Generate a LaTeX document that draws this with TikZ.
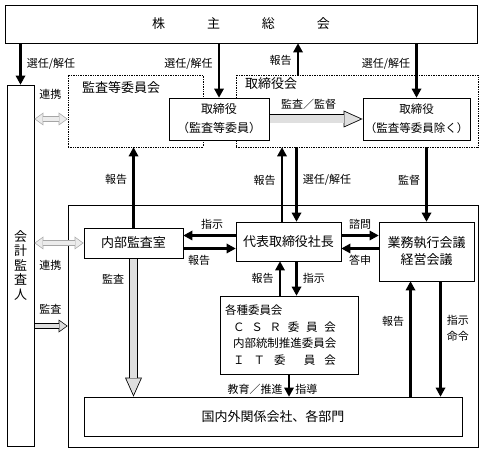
\documentclass[tikz,border=0pt]{standalone}
\usepackage{fontspec}
\usepackage{tikz}
\usetikzlibrary{shapes,arrows.meta,calc}
\setmainfont{Noto Sans CJK JP}
\tikzstyle{box} = [rectangle, draw, line width=0.8pt, fill=white, inner sep=0pt, font=\fontsize{13}{16}\selectfont]
\tikzstyle{area} = [rectangle, draw, densely dotted, line width=0.7pt, inner sep=0pt]
\tikzstyle{areaName} = [inner sep=0pt, anchor=west, font=\fontsize{13}{16}\selectfont]
\tikzstyle{lbl} = [inner sep=5pt, font=\fontsize{11}{16}\selectfont]
\tikzstyle{line} = [draw, line width=2.6pt, -{Triangle[length=9pt,width=10pt,line width=0pt]}]
\tikzstyle{fatBig} = [draw=black, line width=9pt, -{Triangle[length=19pt,width=17pt,line width=0pt]},
  postaction={draw=gray!25, line width=7.4pt, shorten >=2pt, shorten <=0.5pt,
    -{Triangle[length=16.2pt,width=14.5pt,line width=0pt]}}]
\tikzstyle{fatSmall} = [draw=black, line width=6pt, -{Triangle[length=9pt,width=13pt,line width=0pt]},
  postaction={draw=gray!25, line width=4.6pt, shorten >=1.2pt, shorten <=0.5pt,
    -{Triangle[length=7.1pt,width=10.3pt,line width=0pt]}}]
\tikzstyle{renkei} = [draw=gray!70, line width=6pt,
  {Triangle[length=9pt,width=13pt,line width=0pt]}-{Triangle[length=9pt,width=13pt,line width=0pt]},
  postaction={draw=gray!15, line width=4.6pt, shorten >=1.2pt, shorten <=1.2pt,
    {Triangle[length=7.1pt,width=10.3pt,line width=0pt]}-{Triangle[length=7.1pt,width=10.3pt,line width=0pt]}}]

\begin{document}
\begin{tikzpicture}[x=1pt, y=-1pt]
  \useasboundingbox (0,0) rectangle (483,452);

  % areas
  \node [area, minimum width=135pt, minimum height=72pt] (kansaTou) at (135.5,111) {};
  \node [area, minimum width=242pt, minimum height=72pt] (torikai) at (357,111) {};
  \node [rectangle, draw, line width=0.7pt, minimum width=410pt, minimum height=242pt] (shikkoArea) at (273,326) {};
  \node [areaName] (kansaTouName) at (82,88) {監査等委員会};
  \node [areaName] (torikaiName) at (245,84) {取締役会};

  % nodes
  \node [box, minimum width=472pt, minimum height=38pt] (kabunushi) at (241,24)
    {\makebox[178pt][s]{株\hfill 主\hfill 総\hfill 会}};
  \node [box, minimum width=27pt, minimum height=361pt, align=center, font=\fontsize{13}{14.5}\selectfont]
    (kaikei) at (20.5,265.5) {会\\計\\監\\査\\人};
  \node [box, minimum width=100pt, minimum height=42pt, align=center, font=\fontsize{12}{19}\selectfont]
    (torikansa) at (219,119) {取締役\\（監査等委員）};
  \node [box, minimum width=107pt, minimum height=42pt, align=center, font=\fontsize{11.5}{19}\selectfont]
    (torinozoku) at (416.5,119) {取締役\\（監査等委員除く）};
  \node [box, minimum width=99pt, minimum height=30pt] (naibu) at (133.5,243) {内部監査室};
  \node [box, minimum width=105pt, minimum height=39pt] (daihyo) at (288.5,241.5) {代表取締役社長};
  \node [box, minimum width=95pt, minimum height=59pt, align=center, font=\fontsize{13}{17}\selectfont]
    (gyomu) at (426.5,251.5) {業務執行会議\\経営会議};
  \node [box, minimum width=138pt, minimum height=78pt, text width=128pt, align=left,
    font=\fontsize{11.5}{16.5}\selectfont] (kakushu) at (289,335) {各種委員会\\
    \hspace*{8pt}\makebox[103pt][s]{Ｃ\hfill Ｓ\hfill Ｒ\hfill 委\hfill 員\hfill 会}\\
    \hspace*{8pt}内部統制推進委員会\\
    \hspace*{8pt}\makebox[103pt][s]{Ｉ\hfill Ｔ\hfill 委\hfill\hfill 員\hfill 会}};
  \node [box, minimum width=378pt, minimum height=39pt] (kokunai) at (273,416.5) {国内外関係会社、各部門};

  % edges: 株主総会
  \path [line] (kabunushi.south -| kaikei) -- node [lbl, right] {選任/解任} (kaikei.north);
  \path [line] (kabunushi.south -| torikansa) -- node [lbl, left, pos=0.37] {選任/解任} (torikansa.north);
  \path [line] ($(torikai.north)+(-59,0)$) -- node [lbl, left, pos=0.45] {報告} ($(kabunushi.south -| torikai.north)+(-59,0)$);
  \path [line] (kabunushi.south -| torinozoku) -- node [lbl, left, pos=0.37] {選任/解任} (torinozoku.north);

  % edges: 取締役会
  \path [fatBig] (torikansa) -- node [lbl, above, pos=0.42] {監査／監督} (torinozoku);
  \path [renkei] (kaikei.east |- torikansa) -- node [lbl, at start, anchor=south west, xshift=-3pt, yshift=11.5pt] {連携} (kansaTou.west |- torikansa);
  \path [line] (naibu.north) -- node [lbl, left, pos=0.6] {報告} (naibu.north |- kansaTou.south);
  \path [line] ($(daihyo.north)+(-6.5,0)$) -- node [lbl, left, pos=0.56] {報告} ($(daihyo.north |- torikai.south)+(-6.5,0)$);
  \path [line] ($(daihyo.north |- torikai.south)+(8,0)$) -- node [lbl, right, pos=0.44] {選任/解任} ($(daihyo.north)+(8,0)$);
  \path [line] (gyomu.north |- torikai.south) -- node [lbl, left, pos=0.44] {監督} (gyomu.north);

  % edges: 代表取締役社長
  \path [line] ($(daihyo.west)+(0,-6)$) -- node [lbl, above, pos=0.45] {指示} ($(naibu.east |- daihyo.west)+(0,-6)$);
  \path [line] ($(naibu.east |- daihyo.west)+(0,7)$) -- node [lbl, below, pos=0.3] {報告} ($(daihyo.west)+(0,7)$);
  \path [line] ($(daihyo.east)+(0,-6)$) -- node [lbl, above] {諮問} ($(gyomu.west |- daihyo.east)+(0,-6)$);
  \path [line] ($(gyomu.west |- daihyo.east)+(0,7)$) -- node [lbl, below] {答申} ($(daihyo.east)+(0,7)$);
  \path [line] ($(kakushu.north)+(-9,0)$) -- node [lbl, left] {報告} ($(kakushu.north |- daihyo.south)+(-9,0)$);
  \path [line] ($(kakushu.north |- daihyo.south)+(7.5,0)$) -- node [lbl, right] {指示} ($(kakushu.north)+(7.5,0)$);

  % edges: 会計監査人
  \path [renkei] (kaikei.east |- naibu) -- node [lbl, at start, anchor=north west, xshift=-3pt, yshift=-9.5pt] {連携} (naibu.west);
  \path [fatSmall] (kaikei.east |- shikkoArea) -- node [lbl, at start, anchor=south west, xshift=-3pt, yshift=3.5pt] {監査} (shikkoArea.west);

  % edges: 国内外関係会社
  \path [fatBig] (naibu.south) -- node [lbl, left, pos=0.15] {監査} (naibu.south |- kokunai.north);
  \path [line] (kakushu.south) -- node [lbl, left, pos=0.65] {教育／推進} node [lbl, right, pos=0.65] {指導} (kakushu.south |- kokunai.north);
  \path [line] ($(kokunai.north -| gyomu)+(-16,0)$) -- node [lbl, left, pos=0.65] {報告} ($(gyomu.south)+(-16,0)$);
  \path [line] ($(gyomu.south)+(14,0)$) -- node [lbl, right, pos=0.41, align=center] {指示\\命令} ($(kokunai.north -| gyomu)+(14,0)$);
\end{tikzpicture}
\end{document}
